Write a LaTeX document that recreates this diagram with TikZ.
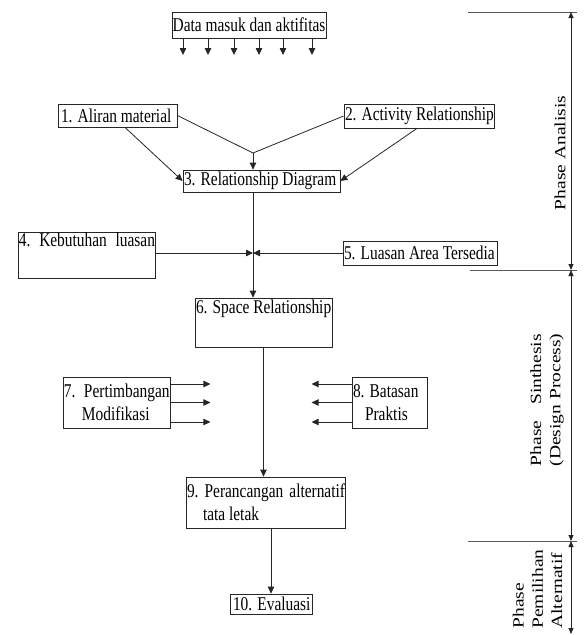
\documentclass[tikz,border=0pt]{standalone}
\usepackage{fontspec}
\usepackage{graphicx}
\setmainfont{Liberation Serif}[FakeStretch=0.79]
\newfontfamily\rotfont{Liberation Serif}
\usetikzlibrary{arrows.meta}
\newcommand\bxt[4]{\parbox[c][#2][#3]{#1}{#4}}
\begin{document}
\begin{tikzpicture}[x=1pt,y=-1pt,
  box/.style={draw=black!85, line width=0.8pt, inner sep=0pt, font=\fontsize{19.5}{23}\selectfont},
  arr/.style={draw=black!85, line width=0.8pt, -{Triangle[length=7pt,width=6.5pt]}},
  ln/.style={draw=black!85, line width=0.8pt},
  dim/.style={draw=black!85, line width=0.8pt, {Triangle[length=6pt,width=5pt]}-{Triangle[length=6pt,width=5pt]}},
  sep/.style={draw=black!65, line width=1pt},
  rot/.style={rotate=90, inner sep=0pt, font=\rotfont\fontsize{19.5}{24}\selectfont}]
\useasboundingbox (0,0) rectangle (584,635);

% boxes
\node[box] (data) at (249,25) {\bxt{154pt}{26pt}{c}{\centering Data masuk dan aktifitas}};
\node[box] (n1) at (117.5,115.5) {\bxt{119pt}{23pt}{c}{\hspace*{3pt}1. Aliran material}};
\node[box] (n2) at (419,116) {\bxt{150pt}{24pt}{c}{\hspace*{1pt}2. Activity Relationship}};
\node[box] (n3) at (261.5,181) {\bxt{157pt}{22pt}{c}{\hspace*{1pt}3. Relationship Diagram}};
\node[box] (n4) at (86.5,255) {\bxt{137pt}{46pt}{t}{\vspace*{1pt}\makebox[137pt][s]{\hspace*{1pt}4.\hfill Kebutuhan\hfill luasan}}};
\node[box] (n5) at (420,253) {\bxt{154pt}{24pt}{c}{\hspace*{1pt}5. Luasan Area Tersedia}};
\node[box] (n6) at (263.5,322.5) {\bxt{137pt}{49pt}{t}{\vspace*{2pt}\hspace*{1pt}6. Space Relationship}};
\node[box] (n7) at (116.5,402.5) {\bxt{107pt}{51pt}{c}{\makebox[21pt][l]{\hspace*{1pt}7.}Pertimbangan\\\hspace*{19pt}Modifikasi}};
\node[box] (n8) at (389.5,402.5) {\bxt{75pt}{51pt}{c}{\hspace*{1pt}8. Batasan\\\hspace*{13pt}Praktis}};
\node[box] (n9) at (265.5,502.5) {\bxt{159pt}{51pt}{c}{\makebox[159pt][s]{\hspace*{1pt}9.\hfill Perancangan\hfill alternatif}\\\hspace*{17pt}tata letak}};
\node[box] (n10) at (271,604) {\bxt{82pt}{20pt}{c}{\hspace*{3pt}10. Evaluasi}};

% input arrows
\foreach \x in {183,208,234,259,283,312} \draw[arr] (\x,0 |- data.south) -- (\x,55);

% connectors
\coordinate (J) at (253,153);
\draw[ln] (n1.east) -- (J);
\draw[ln] (n2.west) -- (J);
\draw[arr] (J) -- (J |- n3.north);
\draw[arr] ([xshift=7.5pt]n1.south) -- (n3.west);
\draw[arr] ([xshift=-2pt]n2.south) -- (n3.east);
\coordinate (C) at (253,253);
\draw[arr] (C |- n3.south) -- (C |- n6.north);
\draw[arr] (n4.east |- C) -- (C);
\draw[arr] (n5.west |- C) -- (C);
\draw[arr] (n6.south) -- (n6.south |- n9.north);
\foreach \d in {18.5,0,-19.5} {
  \draw[arr] ([yshift=\d pt]n7.east) -- ++(40,0);
  \draw[arr] ([yshift=\d pt]n8.west) -- ++(-40,0);
}
\draw[arr] (n10.north |- n9.south) -- (n10.north);

% phases
\coordinate (p0) at (571,12);
\coordinate (p1) at (571,270);
\coordinate (p2) at (571,541);
\coordinate (p3) at (571,634);
\draw[sep] (468,12) -- (577,12);
\draw[sep] (470,270) -- (577,270);
\draw[sep] (468,541) -- (577,541);
\draw[dim] (p0) -- (p1);
\draw[dim] (p1) -- (p2);
\draw[dim] (p2) -- (p3);
\node[rot] (pa) at (560,153) {\scalebox{1}[0.8]{Phase Analisis}};
\node[rot] (ps) at (547,400) {\scalebox{1}[0.8]{\begin{tabular}{@{}c@{}}\makebox[132pt][s]{Phase\hfill Sinthesis}\\(Design Process)\end{tabular}}};
\node[rot] (pp) at (539,589) {\scalebox{1}[0.8]{\begin{tabular}{@{}l@{}}Phase\\Pemilihan\\Alternatif\end{tabular}}};
\end{tikzpicture}
\end{document}
